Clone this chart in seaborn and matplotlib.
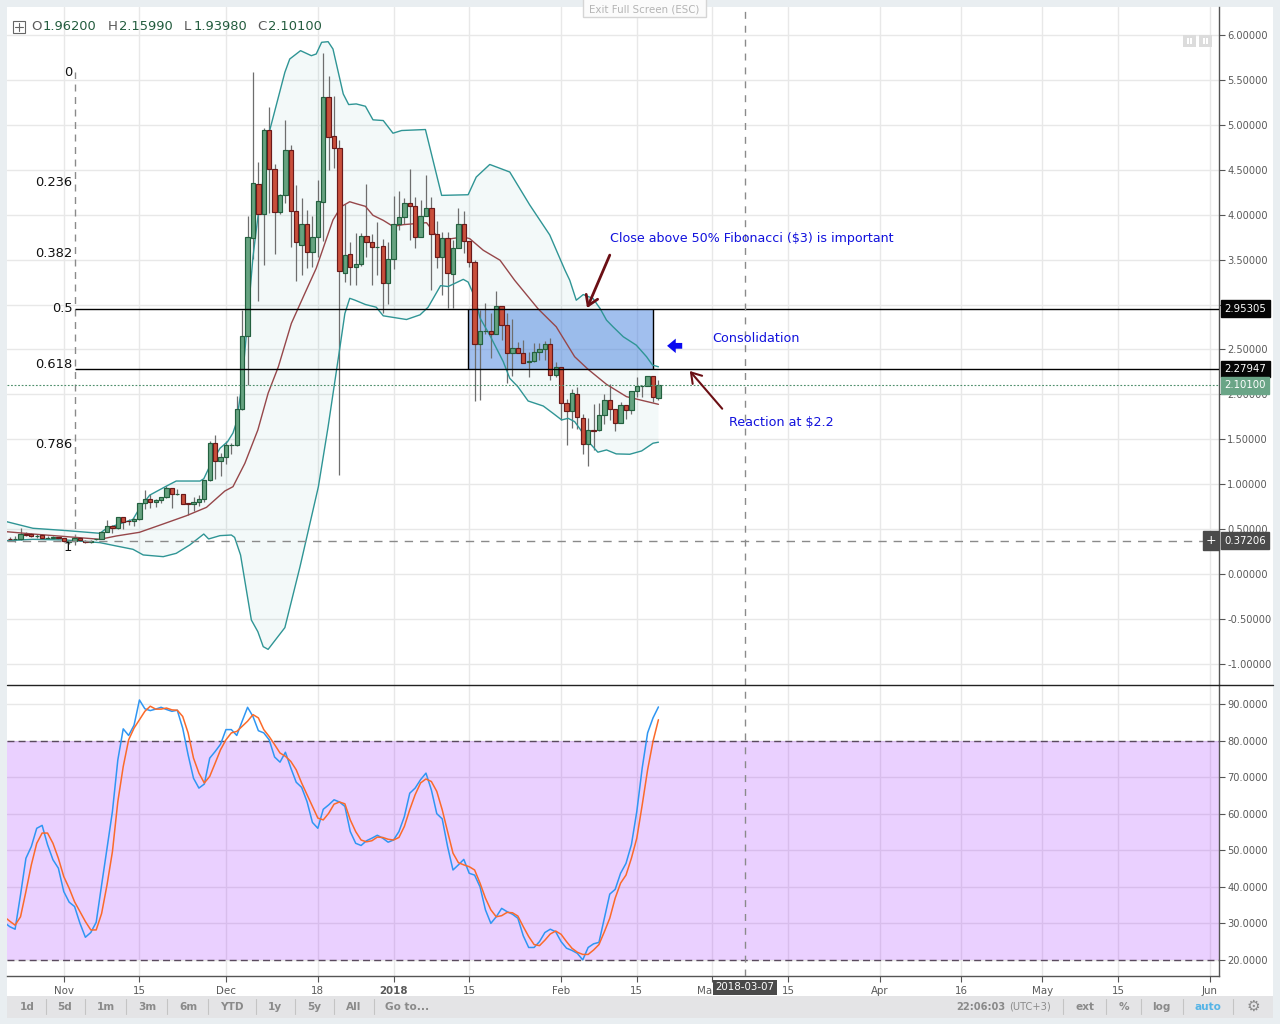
import numpy as np
import pandas as pd
import matplotlib
matplotlib.use("Agg")
import matplotlib.pyplot as plt
import seaborn as sns
from matplotlib.patches import Rectangle, FancyArrowPatch
from matplotlib.lines import Line2D

# ---------- data (days counted from 2017-11-01) ----------
first_day = -10
opens = [.390,.386,.386,.445,.442,.419,.430,.400,.406,.408,.397,.356,.364,.397,.371,.353,.386,.390,.471,.538,.508,.631,.590,.586,.609,.787,.831,.798,.820,.853,.961,.890,.894,.785,.783,.805,.831,1.043,1.455,1.254,1.306,1.436,1.436,1.833,
 2.65,3.737,4.344,4.011,4.944,4.511,4.030,4.222,4.722,4.044,3.667,3.900,3.589,3.756,4.144,5.311,4.878,4.744,3.356,3.567,3.419,3.456,3.767,3.700,3.641,3.656,3.244,3.511,3.900,3.978,4.133,4.100,3.756,3.989,4.078,3.789,3.533,3.744,3.344,3.633,3.900,3.711,3.478,
 2.556,2.700,2.704,2.667,2.989,2.767,2.456,2.511,2.456,2.359,2.367,2.467,2.5,2.556,2.219,2.3,1.9,1.811,2.0,1.733,1.444,1.6,1.6,1.767,1.933,1.833,1.678,1.878,1.822,2.033,2.096,2.096,2.2,1.962]
highs = [.41,.42,.51,.47,.46,.44,.44,.42,.42,.41,.40,.38,.40,.41,.375,.375,.395,.475,.601,.55,.64,.64,.61,.62,.79,.94,.89,.84,.86,.98,.96,.95,.89,.79,.86,.88,1.05,1.484,1.547,1.343,1.484,1.46,1.98,2.94,
 3.98,5.593,4.581,4.96,5.204,4.56,4.23,5.056,4.781,4.326,4.189,4.048,3.981,4.381,5.8,5.548,5.326,4.826,4.122,3.7,3.796,3.796,4.337,3.789,3.919,3.733,3.696,4.204,4.263,4.185,4.504,4.196,4.159,4.437,4.196,3.926,3.807,3.807,3.715,4.078,4.037,3.711,3.5,
 2.937,3.022,2.911,3.148,2.989,2.911,2.844,2.578,2.604,2.470,2.567,2.567,2.593,2.622,2.356,2.3,1.944,2.059,2.078,1.781,1.733,1.889,1.9,2.0,2.115,1.833,1.915,1.878,2.033,2.189,2.1,2.207,2.207,2.1599]
lows = [.37,.36,.38,.42,.41,.40,.39,.385,.39,.39,.36,.335,.32,.37,.345,.34,.38,.385,.47,.46,.50,.50,.54,.53,.60,.72,.74,.745,.79,.85,.74,.88,.78,.66,.70,.76,.80,1.04,1.054,1.095,1.23,1.336,1.42,1.83,
 2.10,3.51,3.04,3.437,4.019,3.567,4.011,4.130,3.641,3.263,3.326,3.407,3.419,3.53,3.707,4.493,4.519,1.10,3.252,3.215,3.215,3.43,3.53,3.215,3.326,2.907,3.011,3.4,3.826,3.9,3.715,3.63,3.752,3.993,3.159,3.407,3.104,2.956,2.963,3.633,3.574,3.419,1.93,
 1.937,2.67,2.407,2.667,2.604,2.130,2.204,2.456,2.352,2.196,2.359,2.381,2.381,2.159,2.189,1.715,1.441,1.63,1.611,1.337,1.207,1.381,1.596,1.67,1.715,1.596,1.678,1.726,1.781,1.974,1.967,2.096,1.919,1.9398]
closes = [.386,.388,.445,.438,.419,.427,.397,.404,.410,.397,.371,.364,.397,.375,.353,.371,.390,.471,.538,.512,.631,.583,.586,.609,.787,.831,.798,.820,.853,.961,.887,.894,.783,.783,.805,.831,1.043,1.455,1.254,1.306,1.432,1.440,1.833,2.65,
 3.748,4.356,4.011,4.944,4.511,4.030,4.222,4.722,4.044,3.700,3.900,3.589,3.756,4.156,5.311,4.867,4.744,3.378,3.556,3.419,3.456,3.767,3.700,3.644,3.644,3.244,3.511,3.900,3.978,4.133,4.100,3.756,3.989,4.078,3.789,3.533,3.744,3.356,3.633,3.900,3.711,3.478,2.556,
 2.704,2.704,2.667,2.989,2.767,2.456,2.511,2.456,2.352,2.367,2.467,2.5,2.556,2.219,2.3,1.9,1.811,2.011,1.744,1.444,1.6,1.596,1.767,1.933,1.833,1.678,1.878,1.822,2.033,2.096,2.098,2.2,1.967,2.101]

upper_days = [-10.6,-5.7,.5,6.7,7.9,12.8,14,15.9,19,20.8,25.2,25.9,27,28.9,30.3,31.3,31.9,32.9,33.8,35,35.9,38.1,40.9,41.8,43.8,45.8,46.7,47.7,48.9,49.8,51.7,52.7,54.1,55.8,57.2,59.1,60.9,62.5,66.9,69.9,74.8,76.3,78.8,82.5,86.2,89.9,92.7,93.6,94.8,96.1,97.9,99.2,100.4,101.6,103.5,105.9,107.8,108.9,110]
upper_vals = [.583,.509,.483,.453,.508,.608,.73,.878,.979,1.035,1.035,1.06,1.2,1.4,1.473,1.57,1.68,2.08,2.68,3.53,3.97,4.94,5.585,5.733,5.826,5.77,5.789,5.919,5.926,5.844,5.344,5.226,5.233,5.207,5.056,5.048,4.907,4.937,4.948,4.215,4.222,4.419,4.559,4.475,4.108,3.774,3.384,3.27,3.048,3.111,3.067,2.956,2.826,2.752,2.641,2.548,2.419,2.326,2.307]
lower_days = [-10.6,-5.7,.5,6.7,9.7,12.8,14.7,18.4,20.8,23.3,25.9,26.8,28.9,31,31.6,32.7,34.7,35.9,36.9,37.8,40.9,43.7,47.1,48.9,51.1,52,52.9,53.8,55.8,57.8,59.1,63.4,65.9,67.4,69.7,71.1,73.9,74.8,76,77,78.8,81.3,82.5,84,85.9,88.7,90.5,92.1,93.3,94.5,95.4,97.3,98.8,100.4,102.2,104.7,106.9,109,110]
lower_vals = [.371,.386,.378,.349,.312,.275,.212,.193,.230,.323,.445,.390,.427,.434,.408,.212,-.512,-.642,-.809,-.839,-.597,.081,.972,1.64,2.53,2.90,3.069,3.05,3.0,2.97,2.874,2.833,2.885,2.97,3.21,3.2,3.28,3.25,3.085,2.85,2.659,2.363,2.178,2.085,1.926,1.87,1.789,1.715,1.733,1.696,1.622,1.456,1.356,1.381,1.337,1.333,1.37,1.456,1.467]
basis_days = [-10.6,-5.7,.5,6.7,9.7,14,18.4,22.7,26.4,29.8,31.3,33.5,35.9,37.8,39.7,42.1,44.6,46.7,48.3,49.8,51.3,52.9,54.1,55.8,57.2,59.1,60.9,62.8,67.1,69.6,73.9,75.1,77.6,80.7,83.4,87.8,91.1,94.5,97,100.4,104.1,110]
basis_vals = [.471,.445,.416,.386,.423,.464,.557,.649,.742,.924,.972,1.232,1.603,2.012,2.308,2.79,3.125,3.403,3.681,3.941,4.089,4.144,4.122,4.093,3.993,3.937,3.87,3.889,3.911,3.715,3.752,3.733,3.604,3.493,3.27,2.948,2.752,2.419,2.278,2.111,1.974,1.889]

stoch_first_day = -11
stoch_k = [30.3,29.1,28.4,37.8,47.8,51.0,56.0,56.8,51.5,47.4,45.1,38.7,35.8,34.6,30.0,26.2,27.5,30.3,40.5,50.5,60.6,74.7,83.2,81.4,84.2,91.1,88.7,88.2,88.6,89.1,88.5,88.0,88.3,83.4,76.1,69.7,67.0,68.1,75.2,77.0,79.0,83.0,83.0,81.4,85.3,89.1,86.6,82.7,82.1,80.2,75.5,74.1,76.8,72.5,68.6,67.2,63.3,57.6,56.0,61.2,62.4,63.8,
 63.2,62.0,55.1,51.9,51.3,52.6,53.3,54.1,53.3,52.2,52.8,55.1,59.2,65.6,67.0,69.3,71.1,66.5,60.0,58.6,51.0,44.6,46.0,47.5,43.7,43.2,40.0,33.7,30.0,31.8,34.1,33.2,32.5,31.4,26.6,23.4,23.4,25.0,27.5,28.4,27.7,25.0,23.2,22.6,21.8,20.0,23.4,24.4,24.8,31.4,38.0,39.3,43.7,46.4,51.5,60.6,72.5,82.1,86.2,89.2]
stoch_d = [31.8,30.6,29.5,31.8,38.7,46.0,51.9,54.7,54.7,51.9,47.8,42.8,39.6,35.9,33.2,30.5,28.2,28.2,32.7,40.5,49.6,63.3,72.9,80.2,83.4,85.7,88.0,89.4,88.6,88.6,88.9,88.4,88.3,86.6,82.1,75.2,71.1,68.4,70.2,73.8,77.5,80.2,82.1,82.5,83.9,85.3,87.1,86.2,83.0,81.1,78.9,76.6,75.7,74.3,72.0,68.4,65.2,62.0,58.8,58.3,60.1,62.6,
 63.2,62.7,58.3,55.1,52.8,52.3,52.6,53.6,53.5,53.0,52.8,53.5,56.5,61.1,65.2,68.4,69.5,68.8,66.1,61.1,55.1,49.2,46.6,46.0,45.5,44.6,41.0,36.9,33.7,31.8,32.1,33.0,32.9,32.0,29.1,26.4,24.2,23.9,25.4,27.1,27.9,27.0,25.0,23.2,22.1,21.5,21.5,22.7,24.2,27.7,31.4,36.9,41.0,43.2,47.8,53.3,62.4,72.0,79.8,85.7]

fib_day = 2
fib_top, fib_bottom = 5.59, 0.37206
fib_lines = [2.95305, 2.27947]
box_days = [74.85, 109.05]
last_price = 2.10100
crosshair_price = 0.37206
crosshair_day = 126
price_ticks = [-1.0,-0.5,0.0,0.5,1.0,1.5,2.0,2.5,3.0,3.5,4.0,4.5,5.0,5.5,6.0]
stoch_ticks = [20,30,40,50,60,70,80,90]
date_ticks = [0,14,30,47,61,75,92,106,120,134,151,166,181,195,212]
date_labels = ['Nov','15','Dec','18','2018','15','Feb','15','Ma','15','Apr','16','May','15','Jun']
fib_names = ['0','0.236','0.382','0.5','0.618','0.786','1']
fib_label_prices = [5.585,4.353,3.573,2.953,2.335,1.446,0.30]

# ---------- style ----------
sns.set_theme(style="white")
plt.rcParams['font.family'] = ['DejaVu Sans']
FRAME = '#e9eef1'; GRID = '#e8e8e8'; TICK = '#5a5a5a'
W, H = 1280, 1024
fig = plt.figure(figsize=(12.8, 10.24), dpi=100, facecolor=FRAME)

def axes_px(x0, y0, x1, y1):
    return fig.add_axes([x0/W, 1-y1/H, (x1-x0)/W, (y1-y0)/H])
def frect(x0, y0, x1, y1, **kw):
    r = Rectangle((x0/W, 1-y1/H), (x1-x0)/W, (y1-y0)/H, transform=fig.transFigure, **kw)
    fig.add_artist(r); return r
def ftext(x, y, s, **kw):
    kw.setdefault('va', 'center'); kw.setdefault('ha', 'left')
    return fig.text(x/W, 1-y/H, s, **kw)
def fline(x0, y0, x1, y1, **kw):
    fig.add_artist(Line2D([x0/W, x1/W], [1-y0/H, 1-y1/H], transform=fig.transFigure, **kw))

frect(7, 7, 1273, 1018, facecolor='white', edgecolor='none', zorder=-5)

XLIM = (-10.5, -10.5 + 1212/5.406)
ax = axes_px(7, 7, 1219, 685)
ax2 = axes_px(7, 685, 1219, 976)
for a in (ax, ax2):
    a.set_facecolor('none')
    a.set_xlim(*XLIM)
    a.set_xticks(date_ticks)
    a.grid(True, color=GRID, lw=1.0, zorder=0)
    a.set_axisbelow(True)
    a.yaxis.tick_right()
    for s in ('top', 'left', 'bottom'):
        a.spines[s].set_visible(False)
    a.spines['right'].set_color('#555555'); a.spines['right'].set_linewidth(1.0)
    a.tick_params(axis='y', length=4, width=0.8, color='#555555', labelcolor=TICK, labelsize=7.1, pad=2, right=True)

# ---------- price panel ----------
ax.set_ylim(-1.2357, 6.312)
ax.set_yticks(price_ticks)
ax.set_yticklabels(['' if v == 3.0 else f'{v:.5f}' for v in price_ticks])
ax.tick_params(axis='x', length=0, labelbottom=False)

ax.fill(np.r_[upper_days, lower_days[::-1]], np.r_[upper_vals, lower_vals[::-1]],
        color='#2a9d9d', alpha=0.055, lw=0, zorder=1)
ax.add_patch(Rectangle((box_days[0], fib_lines[1]), box_days[1]-box_days[0], fib_lines[0]-fib_lines[1],
                       facecolor='#4580df', alpha=0.5, edgecolor='none', zorder=1.5))
ax.vlines(box_days, fib_lines[1], fib_lines[0], color='black', lw=1.0, zorder=1.6)

sns.lineplot(x=upper_days, y=upper_vals, ax=ax, color='#2f9595', lw=1.0, zorder=2.5, errorbar=None, sort=False)
sns.lineplot(x=lower_days, y=lower_vals, ax=ax, color='#2f9595', lw=1.0, zorder=2.5, errorbar=None, sort=False)
sns.lineplot(x=basis_days, y=basis_vals, ax=ax, color='#96474a', lw=1.0, zorder=2.5, errorbar=None, sort=False)

candles = pd.DataFrame({'day': np.arange(first_day, first_day+len(opens)),
                        'open': opens, 'high': highs, 'low': lows, 'close': closes})
up = candles['close'] >= candles['open']
ax.vlines(candles['day'], candles['low'], candles['high'], color='#6e6e6e', lw=0.9, zorder=2)
ax.bar(candles['day'], (candles['close']-candles['open']).abs(), bottom=candles[['open','close']].min(axis=1),
       width=0.8, color=np.where(up, '#66a380', '#c94f3b'),
       edgecolor=np.where(up, '#23603f', '#6a1a1a'), linewidth=0.85, zorder=3)

ax.hlines(fib_lines, fib_day, XLIM[1], color='black', lw=1.0, zorder=3.5)
ax.vlines(fib_day, fib_bottom, fib_top, color='#8a8a8a', lw=1.0, linestyles=(0, (5, 4)), zorder=1.8)
ax.axhline(crosshair_price, color='#8a8a8a', lw=1.0, ls=(0, (6, 5)), zorder=3.6)
ax.axhline(last_price, color='#4f8f6c', lw=0.8, ls=(0, (1.6, 1.6)), zorder=3.6)
for name, p in zip(fib_names, fib_label_prices):
    ax.text(fib_day-0.4, p, name, ha='right', va='center', fontsize=9.4, color='#111111', zorder=5)

ax.text(101, 3.73, 'Close above 50% Fibonacci ($3) is important', color='#1111dd', fontsize=9.05, va='center', zorder=6)
ax.text(119.9, 2.62, 'Consolidation', color='#1111dd', fontsize=9.15, va='center', zorder=6)
ax.text(123, 1.69, 'Reaction at $2.2', color='#1111dd', fontsize=9.15, va='center', zorder=6)
ax.add_patch(FancyArrowPatch((101, 3.55), (96.8, 2.96), arrowstyle='->,head_length=5,head_width=3.2',
                             mutation_scale=1.4, color='#6b0f14', lw=2.0, zorder=6, shrinkA=0, shrinkB=0))
ax.add_patch(FancyArrowPatch((121.8, 1.84), (115.8, 2.26), arrowstyle='->,head_length=5,head_width=3.2',
                             mutation_scale=1.4, color='#6b0f14', lw=1.5, zorder=6, shrinkA=0, shrinkB=0))
ax.add_patch(FancyArrowPatch((114.4, 2.54), (111.6, 2.54), arrowstyle='simple,head_length=2.4,head_width=4,tail_width=1.6',
                             mutation_scale=2.6, color='#0a0af0', lw=0, zorder=6, shrinkA=0, shrinkB=0))

def tag(v, s, color, x=1.0):
    ax.text(x+0.0045, v, s, transform=ax.get_yaxis_transform(), color='white', fontsize=7.3, va='center', ha='left',
            zorder=9, clip_on=False,
            bbox=dict(facecolor=color, edgecolor=color, boxstyle='square,pad=0.32'))
tag(fib_lines[0], '2.95305', '#050505')
tag(fib_lines[1], '2.27947', '#050505')
tag(last_price, '2.10100', '#6aa587')
tag(crosshair_price, '0.37206', '#4a4a4a')
ax.text(0.9935, crosshair_price, '+', transform=ax.get_yaxis_transform(), color='white', fontsize=9, va='center', ha='center',
        zorder=9, bbox=dict(facecolor='#4a4a4a', edgecolor='#4a4a4a', boxstyle='square,pad=0.22'))

# ---------- stochastic panel ----------
ax2.set_ylim(15.6, 95.2)
ax2.set_yticks(stoch_ticks)
ax2.set_yticklabels([f'{v:.4f}' for v in stoch_ticks])
ax2.axhspan(20, 80, facecolor='#9915ff', alpha=0.2, edgecolor='none', zorder=1)
ax2.axhline(80, color='#5a4a5e', lw=1.0, ls=(0, (5, 3)), zorder=2)
ax2.axhline(20, color='#5a4a5e', lw=1.0, ls=(0, (5, 3)), zorder=2)
stoch_days = np.arange(stoch_first_day, stoch_first_day+len(stoch_k))
sns.lineplot(x=stoch_days, y=stoch_k, ax=ax2, color='#2f96f3', lw=1.1, zorder=3, errorbar=None)
sns.lineplot(x=stoch_days, y=stoch_d, ax=ax2, color='#fb6a2a', lw=1.1, zorder=3.2, errorbar=None)
ax2.spines['bottom'].set_visible(True)
ax2.spines['bottom'].set_color('#555555'); ax2.spines['bottom'].set_linewidth(1.0)
ax2.set_xticklabels(date_labels)
ax2.tick_params(axis='x', length=4, width=0.8, color='#555555', labelcolor=TICK, labelsize=7.4, pad=3, bottom=True)
for lab, txt in zip(ax2.get_xticklabels(), date_labels):
    if txt == '2018':
        lab.set_fontweight('bold')
    if txt == 'Ma':
        lab.set_ha('right')

# crosshair across both panels
for a in (ax, ax2):
    a.axvline(crosshair_day, color='#8a8a8a', lw=1.0, ls=(0, (5, 5)), zorder=3.7)
frect(713, 980, 777, 995, facecolor='#4a4a4a', edgecolor='none', zorder=8)
ftext(745, 987.5, '2018-03-07', color='white', fontsize=7.4, ha='center', zorder=9)

# panel separator
fline(7, 685, 1273, 685, color='#222222', lw=1.0, zorder=6)

# ---------- header ----------
frect(12.5, 20.5, 24.5, 32.5, facecolor='white', edgecolor='#666666', lw=0.8, zorder=7)
fline(14.5, 26.5, 22.5, 26.5, color='#666666', lw=0.8, zorder=8)
fline(18.5, 22.5, 18.5, 30.5, color='#666666', lw=0.8, zorder=8)
for xl, l, xv, v in [(31, 'O', 43, '1.96200'), (108, 'H', 119, '2.15990'), (184, 'L', 194, '1.93980'), (257, 'C', 268, '2.10100')]:
    ftext(xl, 27, l, color='#5a5a5a', fontsize=9.6, zorder=8)
    ftext(xv, 27, v, color='#235c3e', fontsize=9.4, zorder=8)
frect(583, -3, 706, 17, facecolor='#fbfbfb', edgecolor='#d5d5d5', lw=1.0, zorder=8)
ftext(644.5, 9, 'Exit Full Screen (ESC)', color='#b4b4b4', fontsize=7.4, ha='center', zorder=9)
for x0 in (1183, 1199):
    frect(x0, 35, x0+13, 47, facecolor='#dcdcdc', edgecolor='none', zorder=8)
    frect(x0+4, 38, x0+6, 44, facecolor='white', edgecolor='none', zorder=9)
    frect(x0+7, 38, x0+9, 44, facecolor='white', edgecolor='none', zorder=9)

# ---------- toolbar ----------
frect(7, 996, 1273, 1018, facecolor='#e4e4e6', edgecolor='none', zorder=7)
BAR = '#8a8a8a'
for x, s in [(27,'1d'),(65,'5d'),(106,'1m'),(147,'3m'),(188,'6m'),(232,'YTD'),(275,'1y'),(314,'5y'),(354,'All'),(407,'Go to...')]:
    ftext(x, 1006.5, s, color=BAR, fontsize=7.6, fontweight='bold', ha='center', zorder=8)
for x in (46,85,126,167,208,256,295,334,374,1063,1106,1141,1183,1233):
    fline(x, 999, x, 1014, color='#c4c4c4', lw=0.8, zorder=8)
ftext(1005, 1006.5, '22:06:03', color=BAR, fontsize=7.1, fontweight='bold', ha='right', zorder=8)
ftext(1009, 1006.5, '(UTC+3)', color=BAR, fontsize=7.1, zorder=8)
ftext(1085, 1006.5, 'ext', color=BAR, fontsize=7.6, fontweight='bold', ha='center', zorder=8)
ftext(1124, 1006.5, '%', color=BAR, fontsize=7.6, fontweight='bold', ha='center', zorder=8)
ftext(1161, 1006.5, 'log', color=BAR, fontsize=7.6, fontweight='bold', ha='center', zorder=8)
ftext(1208, 1006.5, 'auto', color='#55b4e6', fontsize=7.6, fontweight='bold', ha='center', zorder=8)
ftext(1253, 1006.5, '\u2699', color=BAR, fontsize=11, ha='center', zorder=8)

fig.savefig('out.png', dpi=100, facecolor=FRAME)
